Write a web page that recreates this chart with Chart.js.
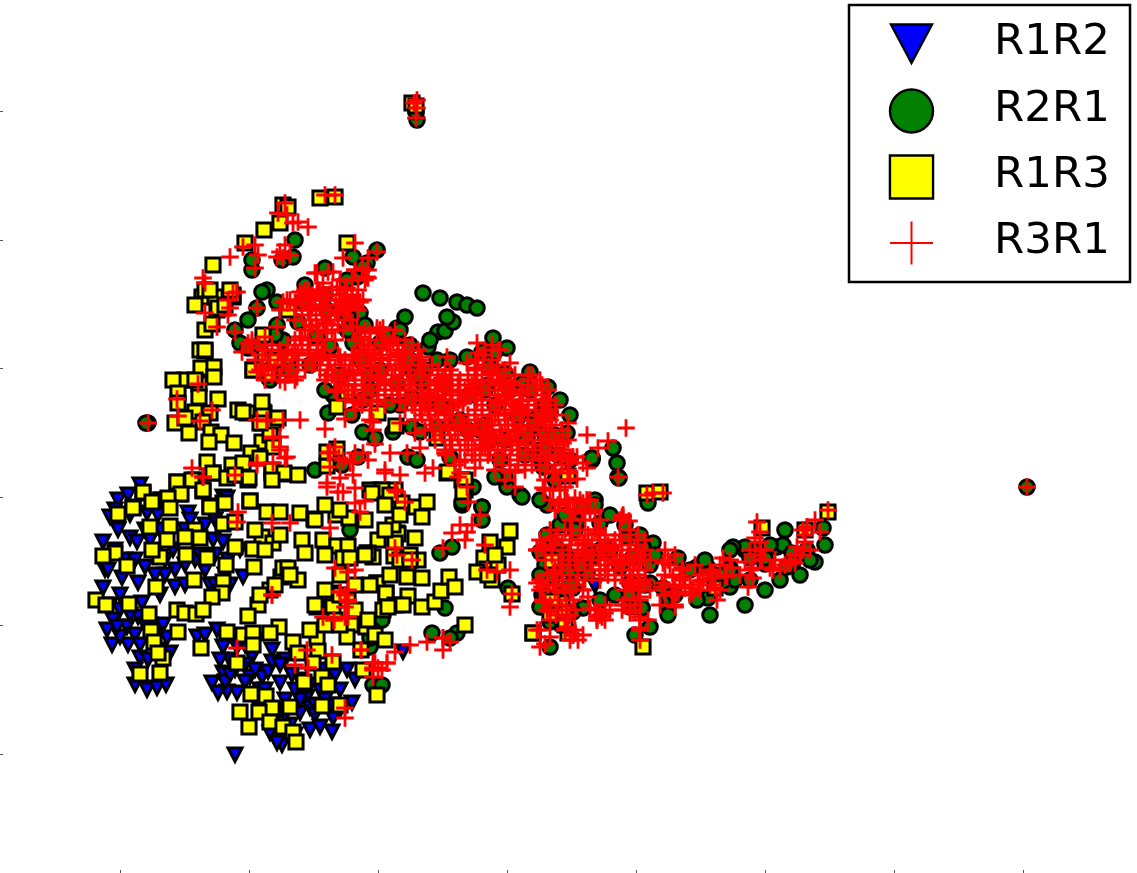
<!DOCTYPE html>
<html><head><meta charset="utf-8">
<style>html,body{margin:0;padding:0;background:#fff;overflow:hidden}canvas{display:block;filter:blur(.4px)}</style>
<script src="https://cdn.jsdelivr.net/npm/chart.js@4/dist/chart.umd.min.js"></script>
</head><body><canvas id="c" width="1137" height="873"></canvas>
<script>
const xTicks=[20,149,278,407,536,665,794,923];
const yTicks=[46,175,303,432,560,689];
const seriesNames=["R1R2","R2R1","R1R3","R3R1"];
const r1r2=[[40,315],[18,300],[28,305],[10,283],[88,287],[58,285],[47,287],[3,258],[18,270],[30,262],[37,258],[5,230],[8,230],[22,222],[38,217],[75,213],[60,205],[105,230],[75,230],[45,233],[93,260],[73,250],[113,260],[123,258],[123,303],[127,302],[143,223],[3,212],[42,197],[13,180],[7,170],[27,173],[38,183],[12,155],[28,155],[67,162],[63,175],[40,142],[48,140],[70,147],[35,115],[47,110],[57,112],[66,115],[20,163],[17,173],
[97,163],[112,117],[118,107],[127,108],[137,107],[123,127],[150,123],[162,123],[168,128],[192,125],[180,117],[117,170],[123,153],[137,153],[172,150],[152,143],[172,138],[207,103],[210,92],[200,87],[170,67],[182,55],[177,57],[210,70],[232,68],[220,73],[200,100],[247,130],[255,120],[240,110],[233,82],[252,97],[135,45],[303,148],[495,214],
[130,140],[145,135],[185,140],[200,120],[220,110],[190,75],[155,100],[230,95],[185,100],[50,260],[60,270],[90,280],[25,240],[85,235],[20,190],[50,175],[35,165],[115,280],[128,240],[55,245],[65,225],[95,240],[30,195],[125,118],[135,130],[160,110],[175,90],[195,65],[215,85],
[15,290],[30,285],[45,270],[70,270],[85,270],[105,275],[15,250],[35,240],[65,240],[85,245],[100,245],[110,215],[55,225],[85,215],[20,205],[10,195],[45,175],[30,185],[55,165],[40,155],[60,150],[35,130],[130,125],[145,118],[165,110],[180,135],[195,110],[210,115],[225,100],[240,90],[185,85],[175,80],[215,95],[155,130],[145,155],[155,160],[195,145],[120,140],[105,165],[225,130],[235,125],[125,225],[115,215],[130,215],[140,250],[115,245]];
const r2r1=[[317,680],[316,688],[167,510],[162,508],[148,480],[157,492],[177,498],[183,460],[135,470],[140,457],[148,452],[177,475],[195,560],[182,540],[152,530],[193,543],[152,540],[253,543],[225,532],[257,523],[277,550],[267,537],[263,533],[247,520],[227,490],[198,478],[217,463],[230,453],[260,487],[247,470],[297,472],[253,457],[280,457],[203,497],
[323,507],[340,502],[357,498],[367,495],[377,492],[338,468],[345,469],[353,478],[347,483],[382,448],[393,462],[407,452],[395,448],[430,428],[448,413],[405,427],[382,412],[388,415],[423,417],[445,395],[367,443],[390,433],[328,453],[337,440],[313,428],[322,418],[270,425],[297,470],[255,470],[248,483],[297,463],[305,483],[248,470],[182,460],[215,330],[258,343],[242,335],[228,387],[263,400],[252,385],[233,405],[263,368],[275,362],[293,368],[312,373],[320,368],[308,343],[317,340],[373,313],[350,343],[250,270],[362,295],[407,313],[420,305],[382,293],[363,297],[445,365],[442,385],[458,345],[443,333],[467,367],[492,342],[368,370],[380,370],[333,397],[338,373],[312,402],[297,417],[347,393],[357,377],[390,360],[400,340],[405,323],[395,323],[440,343],[437,383],[418,383],[427,363],[450,387],[492,340],
[927,313],[48,377],[46,377],[513,352],[517,337],[518,323],[492,342],[447,295],[422,303],[519,322],[548,297],[495,300],[447,265],[465,278],[452,245],[440,248],[450,235],[483,192],[473,188],[460,187],[440,193],[408,212],[473,212],[442,205],[465,208],[450,178],[530,193],[450,153],[542,192],[542,192],[568,192],[568,185],[550,173],[535,165],[563,212],[568,203],[532,197],[610,185],[630,213],[608,202],[597,200],[645,195],[553,257],[552,243],[550,235],[578,242],[492,242],[510,250],[465,242],[477,277],[500,277],[527,263],[630,232],[608,232],[597,233],[645,250],[665,236],[653,250],[677,253],[645,253],[692,235],[683,255],[692,247],[707,250],[635,220],[665,242],[692,237],[622,218],[633,253],[650,242],[630,230],[687,233],[715,238],[723,272],
[465,247],[470,230],[487,227],[500,250],[520,233],[533,243],[543,253],[550,217],[530,217],[453,223],[482,293],[382,293],[382,280],[362,298],[357,167],[350,162],[332,167],[345,192],[270,153],[282,180],[273,170],[340,247],[352,253],[270,162],[273,115],[282,115],
[205,515],[225,505],[250,495],[265,475],[285,465],[300,470],[310,440],[325,430],[345,415],[370,405],[395,395],[420,385],[435,375],[455,365],[440,350],[460,400],[470,385],[300,395],[320,425],[260,440],[280,430],[240,425],[225,410],[210,435],[190,430],[170,420],[160,455],[175,465],[340,395],[360,380],[385,375],[405,360],[425,345],[445,350],[430,410],[410,410],[385,410],[350,440],[330,460],[310,455],[290,395],[270,410],[470,340],[455,320],[440,300],[460,275],[475,270],[490,245],[455,255],[470,215],[500,200],[515,205],[530,205],[545,215],[555,245],[540,265],[525,275],[510,285],[495,295],[465,285],[445,235],[440,225],[460,245],[480,235],[445,205],[460,190],[575,205],[590,230],[605,240],[620,225],[630,250],[650,220],[665,210],[680,220],[700,225],[670,255],[685,270],[710,240],[725,255]];
const r1r3=[[43,307],[77,318],[80,306],[103,309],[113,327],[135,325],[148,320],[172,327],[183,326],[95,320],[18,286],[33,293],[60,300],[110,294],[123,297],[150,299],[167,288],[180,288],[123,276],[135,278],[50,273],[70,274],[95,270],[100,262],[67,260],[85,263],[162,263],[173,257],[135,253],[153,251],[15,247],[3,244],[60,243],[52,250],[86,245],[107,242],[27,234],[126,235],[154,233],[94,220],[123,218],[56,213],[122,207],[112,203],[181,223],[198,220],[170,210],[183,232],[188,232],[158,195],[148,184],[-4,200],[6,195],[29,196],[49,186],[51,169],[54,158],[78,168],[77,190],[85,187],[96,186],[103,190],[63,142],[58,147],[40,126],[60,127],[101,152],[127,168],[143,165],[153,167],[153,155],[179,173],[170,167],[137,137],[193,158],[198,147],[217,162],[218,149],[213,137],[233,138],[204,118],[222,123],[228,115],[151,106],[166,104],[190,93],[172,92],[140,88],[159,88],[222,94],[240,95],[149,73],[170,78],[183,73],[193,68],[196,58],[217,193],[233,207],[233,193],[248,200],[235,180],[251,175],[266,173],[247,163],[261,150],[263,130],[277,105],[280,310],[270,310],[295,310],[297,267],[286,207],[277,217],[283,190],[295,250],[200,287],[214,281],[236,285],[249,282],[202,260],[223,260],[237,254],[248,254],[243,242],[250,242],[267,247],[273,243],
[282,310],[272,307],[302,297],[316,293],[327,298],[290,305],[322,283],[298,266],[293,275],[295,257],[278,260],[268,247],[294,244],[308,237],[318,240],[307,223],[322,222],[277,217],[286,207],[308,204],[295,195],[303,195],[288,193],[322,193],[335,198],[341,209],[349,223],[355,213],[410,269],[390,258],[407,253],[384,242],[387,231],[398,235],[392,220],[377,228],[412,206],[365,175],[433,167],[365,310],[362,320],[347,327],
[105,449],[101,432],[114,433],[85,420],[114,423],[73,420],[78,407],[99,416],[99,403],[118,401],[78,397],[110,387],[95,388],[75,377],[85,382],[103,378],[89,367],[111,368],[121,365],[109,358],[134,357],[147,387],[138,390],[164,387],[162,377],[173,377],[162,358],[170,365],[173,353],[151,347],[160,342],[107,338],[113,327],[132,335],[143,337],[127,322],[149,322],[135,325],[172,330],[184,327],[198,325],[172,320],[77,318],[92,320],[81,306],[103,310],[43,308],[62,300],[110,293],[150,299],[68,302],[125,297],[33,292],[52,298],[70,292],
[183,595],[188,593],[180,577],[164,570],[145,557],[113,535],[102,503],[133,503],[117,490],[105,470],[100,450],[95,420],[115,503],[105,510],[133,505],[130,510],[118,492],[112,476],[105,450],[187,492],[163,465],[165,443],[153,430],[175,432],[188,443],[220,602],[235,603],[247,557],[278,387],[237,351],[296,374],[227,334],[237,393],[188,490],
[143,388],[163,388],[160,377],[153,430],[175,432],[247,408],[337,362],[348,328],[365,320],[363,308],[468,324],[227,348],[452,239],[462,197],[463,177],[465,187],[452,199],[450,185],[468,167],[433,167],[465,175],[547,307],[560,308],[615,212],[662,272],[705,270],[728,288],[543,153],[312,697],[316,694],
[160,205],[175,215],[190,225],[215,195],[225,210],[240,205],[255,215],[240,225],[270,215],[210,170],[225,175],[240,175],[255,190],[268,180],[275,165],[285,160],[290,225],[300,240],[265,245],[285,270],[310,245],[315,262],[300,285],[285,295],[265,280],[240,290],[225,295],[215,280],[155,270],[165,250],[180,265],[205,247],[225,245],[95,495],[110,510],[125,495],[170,425],[175,440],[162,398],[178,382],[310,240],[388,225],[395,245]];
const r3r1=[[927,313],[317,700],[317,692],[316,682],[314,697],[185,597],[178,587],[187,585],[193,577],[208,573],[198,578],[225,605],[235,605],[155,555],[143,553],[158,545],[180,548],[183,542],[177,543],[185,555],[190,545],[155,532],[130,543],[103,522],[105,517],[133,507],[137,508],[128,500],[130,492],[128,485],[105,487],[117,473],[157,492],[135,468],[152,457],[142,448],[165,463],[165,455],[177,473],[152,460],[148,457],[152,452],
[255,557],[243,542],[277,548],[268,542],[262,532],[268,522],[255,530],[215,527],[228,528],[223,517],[237,513],[247,512],[208,510],[200,508],[183,498],[195,497],[207,502],[217,507],[227,505],[240,500],[252,503],[257,500],[212,492],[222,490],[237,488],[247,493],[200,463],[212,473],[227,477],[217,460],[253,473],[277,472],[270,467],[260,463],[283,472],[287,455],[265,450],[298,443],[298,447],[273,447],[260,447],[222,443],[198,447],[240,443],[217,447],[187,447],
[217,527],[233,528],[267,523],[187,500],[203,505],[220,507],[243,500],[260,498],[220,493],[245,498],[202,463],[227,467],[257,473],[277,468],[263,455],[293,460],[303,447],[187,447],[220,442],[253,443],[280,442],[322,443],[347,443],[290,457],[163,432],[157,428],[185,418],[197,423],[227,425],[253,427],[277,423],[303,447],[377,432],[393,427],[377,457],[350,430],[237,410],[253,398],[277,410],[300,398],[324,400],[367,437],[400,418],[253,427],[285,417],[237,408],[277,398],[300,377],[273,378],[377,417],[410,408],[370,408],[363,397],[428,425],[410,418],[423,408],[397,430],[437,415],[423,388],[445,399],[447,387],[417,393],[414,375],[442,378],[392,368],[373,367],[330,403],[363,397],[377,400],[350,393],[328,390],[315,367],[333,370],[348,373],[387,367],[407,363],[420,373],[445,383],[417,358],[442,385],[360,338],[346,345],[285,395],[298,410],[340,418],[320,352],[360,327],[385,352],[345,347],[300,325],[285,330],[325,327],[250,337],[235,353],[255,347],[275,356],[355,335],[333,332],[375,332],[358,323],[285,327],[273,370],[245,381],[253,338],[239,342],[225,371],[180,363],[167,380],[173,363],[180,353],[187,343],[157,380],[200,380],[157,337],[173,337],[230,348],[307,347],[290,347],[268,340],[243,340],[240,322],[228,347],[238,308],[227,313],[253,325],[263,347],
[367,313],[368,298],[467,300],[458,295],[453,327],[415,328],[415,313],[468,327],[477,343],[473,343],[477,321],[483,337],[487,300],[450,358],[468,339],[475,291],[445,342],[463,357],[468,377],[487,365],[498,352],[508,359],[526,372],[487,332],[529,279],[522,283],[483,297],[460,343],[378,447],[337,418],[342,422],[310,420],[328,407],[345,387],[365,374],[383,367],[405,403],[422,399],[400,398],[413,397],[393,363],[417,368],[387,375],[405,387],[420,393],[435,400],[395,385],[370,405],[352,408],[338,403],[325,395],[347,415],[315,400],[297,415],[303,432],[280,420],[265,415],[235,423],[245,415],[270,435],[300,435],[320,435],[345,430],[375,440],[410,437],[400,450],
[190,277],[230,272],[255,297],[260,288],[297,308],[305,298],[243,308],[227,317],[295,310],[265,299],[365,260],[385,255],[297,245],[295,252],[235,232],[255,230],[248,228],[248,183],[312,240],[207,150],[172,205],[240,208],[248,210],[248,200],[234,180],[223,183],[232,145],[261,150],[275,137],[278,132],[273,130],[245,205],[245,193],[245,183],[208,132],[287,137],[273,132],[282,130],[295,148],[310,155],[327,158],[343,162],[350,158],[343,150],[343,162],[343,252],[352,267],[360,275],[367,268],[372,275],[380,285],[387,230],[397,228],[410,230],[412,206],[410,193],[437,250],[437,217],[437,170],[465,313],[468,297],
[98,416],[77,401],[78,384],[112,390],[100,379],[48,377],[167,379],[183,380],[173,362],[180,350],[185,342],[157,335],[92,332],[103,323],[195,135],[138,288],[103,323],[135,325],[137,278],[172,277],[230,333],[255,312],[137,152],[208,132],[172,205],[240,208],[248,198],[234,180],[261,150],[273,137],[287,137],[273,123],[245,92],[245,82],
[443,312],[453,310],[460,297],[475,302],[487,300],[473,288],[483,287],[490,287],[523,283],[523,283],[523,285],[450,262],[442,252],[472,270],[483,257],[498,270],[498,267],[487,247],[503,250],[512,253],[530,260],[535,250],[540,240],[528,243],[463,235],[477,240],[505,230],[517,237],[522,237],[533,230],[463,215],[500,230],[533,217],[445,198],[453,227],[457,215],[442,213],[453,215],[465,208],[488,203],[490,192],[533,212],[528,217],[540,203],[535,195],[443,198],[450,188],[467,183],[473,165],[468,173],[502,183],[505,187],[497,180],[450,163],[440,153],[445,156],[468,172],[465,171],[473,165],[483,165],[497,183],[505,195],[523,195],[530,187],[540,183],[540,172],[523,195],[540,218],[563,237],[562,217],[578,207],[593,208],[583,222],[575,193],[560,195],[580,220],[575,208],[562,213],[583,230],[573,223],[593,212],[603,220],[613,227],[623,242],[627,223],[615,212],[617,200],[648,213],[653,222],[660,258],[660,250],[657,278],[662,240],[685,235],[653,232],[673,230],[690,237],[703,270],[707,273],[695,237],[697,253],[703,250],[707,273],[553,307],[563,307],[547,305],[518,323],[728,290],
[255,530],[268,530],[240,520],[252,520],[265,520],[205,510],[218,510],[232,510],[245,510],[258,510],[190,500],[203,500],[215,500],[228,500],[240,500],[252,500],[263,500],[180,490],[195,490],[208,490],[222,490],[235,490],[248,490],[258,490],[195,480],[210,480],[223,480],[238,480],[250,480],[205,470],[218,470],[232,470],[243,470],[265,470],[280,470],[295,470],[195,460],[208,460],[222,460],[235,460],[255,460],[270,460],[285,460],[305,460],
[165,450],[180,450],[195,450],[210,450],[225,450],[260,450],[275,450],[290,450],[305,450],[318,450],[385,450],[398,450],[155,440],[170,440],[185,440],[198,440],[215,440],[230,440],[245,440],[260,440],[275,440],[290,440],[305,440],[320,440],[378,440],[392,440],[160,430],[175,430],[190,430],[205,430],[220,430],[235,430],[250,430],[265,430],[280,430],[295,430],[310,430],[325,430],[338,430],[375,430],[390,430],[405,430],[165,420],[180,420],[195,420],[225,420],[240,420],[255,420],[270,420],[285,420],[300,420],[315,420],[330,420],[345,420],[360,420],[375,420],[390,420],[405,420],[428,420],[440,420],
[235,410],[248,410],[262,410],[278,410],[292,410],[305,410],[320,410],[335,410],[350,410],[365,410],[380,410],[395,410],[408,410],[420,410],[435,410],[448,410],[245,400],[258,400],[272,400],[285,400],[300,400],[315,400],[330,400],[345,400],[360,400],[375,400],[390,400],[405,400],[420,400],[435,400],[450,400],[255,390],[270,390],[305,390],[320,390],[335,390],[350,390],[375,390],[390,390],[405,390],[420,390],[435,390],[450,390],[270,380],[315,380],[330,380],[345,380],[360,380],[375,380],[390,380],[405,380],[420,380],[435,380],[450,380],
[325,370],[340,370],[355,370],[370,370],[385,370],[400,370],[415,370],[430,370],[445,370],[462,370],[335,360],[350,360],[365,360],[380,360],[395,360],[410,360],[425,360],[440,360],[455,360],[468,360],[345,350],[360,350],[375,350],[390,350],[405,350],[420,350],[435,350],[450,350],[465,350],[365,340],[380,340],[395,340],[410,340],[425,340],[440,340],[455,340],[470,340],[395,330],[410,330],[425,330],[440,330],[455,330],[468,330],[405,320],[445,320],[458,320],[470,320],
[445,310],[460,310],[450,300],[465,300],[480,300],[490,300],[455,290],[470,290],[482,290],[495,290],[470,280],[485,280],[500,280],[520,280],[450,270],[465,270],[480,270],[495,270],[530,270],[440,260],[455,260],[470,260],[485,260],[500,260],[515,260],[530,260],[545,260],[437,250],[452,250],[470,250],[485,250],[500,250],[515,250],[530,250],[545,250],[445,240],[460,240],[475,240],[490,240],[505,240],[520,240],[535,240],[550,240],[455,230],[470,230],[485,230],[500,230],[515,230],[530,230],[545,230],[440,220],[455,220],[470,220],[485,220],[500,220],[515,220],[530,220],[545,220],[440,210],[455,210],[470,210],[483,210],[525,210],[538,210],[550,210],[443,200],[458,200],[473,200],[525,200],[540,200],[447,190],[462,190],[475,190],[495,190],[510,190],[522,190],[535,190],[450,180],[467,180],[497,180],[505,180],[540,180],[548,180],[440,170],[465,170],[475,170],[540,170],[470,160],[478,160],[540,160],
[565,250],[575,245],[570,235],[580,225],[565,225],[575,215],[590,215],[565,205],[575,195],[590,205],[600,210],[610,215],[600,225],[595,235],[610,230],[620,235],[630,240],[625,225],[620,210],[640,225],[650,230],[660,240],[650,250],[655,262],[660,268],[670,232],[680,230],[690,240],[700,245],[710,250],[720,268],[715,280],[705,265],
[212,505],[226,505],[240,505],[252,505],[196,495],[210,495],[224,495],[236,495],[250,495],[202,485],[216,485],[230,485],[245,485],[210,475],[225,475],[238,475],[172,455],[188,455],[202,455],[218,455],[268,455],[282,455],[298,455],[312,455],[392,455],[162,445],[178,445],[192,445],[208,445],[222,445],[238,445],[252,445],[268,445],[282,445],[298,445],[312,445],[384,445],[168,435],[182,435],[198,435],[212,435],[228,435],[242,435],[258,435],[272,435],[288,435],[302,435],[318,435],[332,435],[383,435],[398,435],[172,425],[188,425],[232,425],[248,425],[262,425],[278,425],[292,425],[308,425],[322,425],[338,425],[352,425],[368,425],[382,425],[398,425],[415,425],[432,425],
[242,415],[255,415],[270,415],[285,415],[298,415],[312,415],[328,415],[342,415],[358,415],[372,415],[388,415],[402,415],[414,415],[428,415],[442,415],[252,405],[265,405],[278,405],[292,405],[308,405],[322,405],[338,405],[352,405],[368,405],[382,405],[398,405],[412,405],[428,405],[442,405],[262,395],[312,395],[328,395],[342,395],[358,395],[382,395],[398,395],[412,395],[428,395],[442,395],[455,395],[322,385],[338,385],[352,385],[368,385],[382,385],[398,385],[412,385],[428,385],[442,385],[456,385],[332,375],[348,375],[362,375],[378,375],[392,375],[408,375],[422,375],[438,375],[452,375],[342,365],[358,365],[372,365],[388,365],[402,365],[418,365],[432,365],[448,365],[462,365],[352,355],[368,355],[382,355],[398,355],[412,355],[428,355],[442,355],[458,355],[372,345],[388,345],[402,345],[418,345],[432,345],[448,345],[462,345],[402,335],[418,335],[432,335],[448,335],[462,335],
[458,265],[472,265],[488,265],[505,265],[520,265],[538,265],[445,255],[462,255],[478,255],[492,255],[508,255],[522,255],[538,255],[452,245],[468,245],[482,245],[498,245],[512,245],[528,245],[542,245],[462,235],[478,235],[492,235],[508,235],[522,235],[538,235],[447,225],[462,225],[478,225],[492,225],[508,225],[522,225],[538,225],[448,215],[462,215],[476,215],[530,215],[544,215],[450,195],[466,195],[530,195],[456,185],[470,185],[500,185],
[568,240],[582,232],[572,205],[585,212],[598,218],[612,222],[632,232],[645,238],[655,245],[665,250],[675,240],[695,245],[705,258]];
function toPts(a){return a.map(p=>({x:p[0],y:p[1]}));}
function triangleMark(){
  const t=document.createElement("canvas");t.width=24;t.height=24;
  const g=t.getContext("2d");g.fillStyle="#0000ff";g.strokeStyle="#000";g.lineWidth=3;g.lineJoin="miter";
  g.beginPath();g.moveTo(5,5);g.lineTo(19,5);g.lineTo(12,18.5);g.closePath();g.fill();g.stroke();
  return t;
}
const K="#000";
const styles=[
 {pointStyle:triangleMark(),pointRadius:9,pointBackgroundColor:"#0000ff",pointBorderColor:K,pointBorderWidth:3},
 {pointStyle:"circle",pointRadius:7.3,pointBackgroundColor:"#008000",pointBorderColor:K,pointBorderWidth:3},
 {pointStyle:"rect",pointRadius:10,pointBackgroundColor:"#ffff00",pointBorderColor:K,pointBorderWidth:3},
 {pointStyle:"cross",pointRadius:8.8,pointBackgroundColor:"#ff0000",pointBorderColor:"#ff0000",pointBorderWidth:2.8}];
const legendPlugin={id:"boxLegend",afterDraw(ch){
  const c=ch.ctx;c.save();
  c.fillStyle="#fff";c.fillRect(849,5,281,277);
  c.strokeStyle="#000";c.lineWidth=2.5;c.strokeRect(849,5,281,277);
  const rows=[44,111,177,243];
  c.lineWidth=2.4;c.lineJoin="miter";
  c.fillStyle="#0000ff";c.strokeStyle="#000";
  c.beginPath();c.moveTo(891,24.5);c.lineTo(932,24.5);c.lineTo(911.5,63);c.closePath();c.fill();c.stroke();
  c.fillStyle="#008000";Chart.helpers.drawPoint(c,{pointStyle:"circle",radius:21.5,borderWidth:2.4},911.5,rows[1]);
  c.fillStyle="#ffff00";Chart.helpers.drawPoint(c,{pointStyle:"rect",radius:30.5,borderWidth:2.4},911.5,rows[2]);
  c.strokeStyle="#ff0000";c.lineWidth=2;Chart.helpers.drawPoint(c,{pointStyle:"cross",radius:21.5,borderWidth:2},911.5,rows[3]);
  c.fillStyle="#000";c.font='43.5px "DejaVu Sans"';c.textBaseline="middle";c.textAlign="left";
  seriesNames.forEach((n,i)=>c.fillText(n,994,rows[i]-1));
  c.restore();
}};
const sets=[r1r2,r2r1,r1r3,r3r1];
new Chart(document.getElementById("c"),{
 type:"scatter",
 data:{datasets:sets.map((d,i)=>Object.assign({label:seriesNames[i],data:toPts(d),order:4-i,showLine:false},styles[i]))},
 plugins:[legendPlugin],
 options:{responsive:false,animation:false,devicePixelRatio:1,
  layout:{padding:0,autoPadding:false},
  plugins:{legend:{display:false},tooltip:{enabled:false},title:{display:false}},
  scales:{
   x:{type:"linear",min:-97,max:1037,afterBuildTicks:a=>{a.ticks=xTicks.map(v=>({value:v}));},afterFit:a=>{a.height=3;},
      ticks:{display:false},border:{display:false},grid:{drawOnChartArea:false,tickLength:3,tickColor:"#555",lineWidth:1}},
   y:{type:"linear",min:-70,max:800,afterBuildTicks:a=>{a.ticks=yTicks.map(v=>({value:v}));},afterFit:a=>{a.width=3;},
      ticks:{display:false},border:{display:false},grid:{drawOnChartArea:false,tickLength:3,tickColor:"#555",lineWidth:1}}
  }}
});
</script></body></html>
